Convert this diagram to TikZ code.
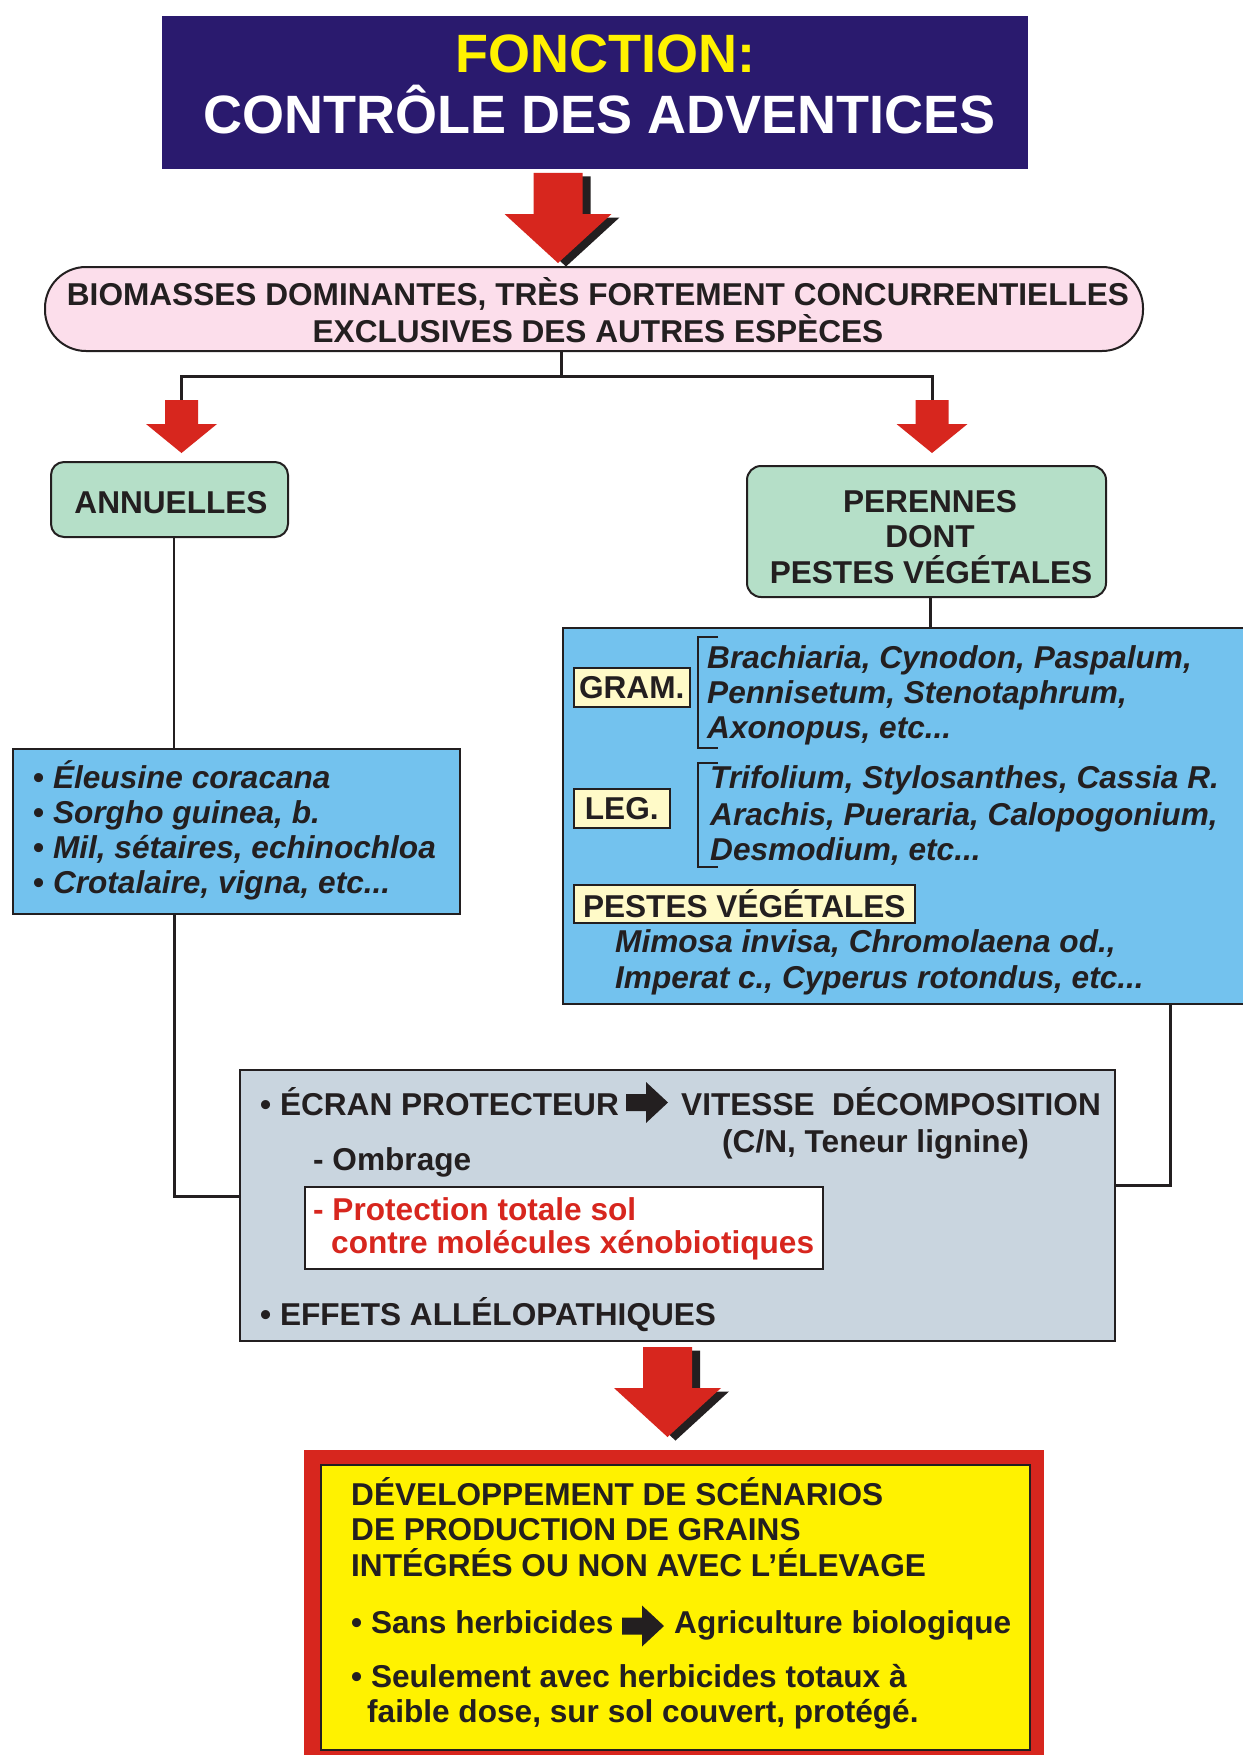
\documentclass[tikz,border=0pt]{standalone}
\usepackage{fontspec}
\setmainfont{Liberation Sans}
\usetikzlibrary{calc}
\definecolor{ink}{HTML}{231F20}
\definecolor{navy}{HTML}{2A1A6E}
\definecolor{tyellow}{HTML}{FFF200}
\definecolor{pinkbg}{HTML}{FCDEEB}
\definecolor{mint}{HTML}{B5DFC8}
\definecolor{sky}{HTML}{73C2EE}
\definecolor{greyb}{HTML}{C9D5DF}
\definecolor{lab}{HTML}{FFFAC8}
\definecolor{redc}{HTML}{D7261E}
\tikzset{
  t/.style={font=\fontsize{31.6}{36}\selectfont\bfseries, text=ink, inner sep=0pt, anchor=base west},
  ti/.style={font=\fontsize{31.6}{36}\selectfont\bfseries\itshape, text=ink, inner sep=0pt, anchor=base west},
  box/.style={draw=ink, line width=2pt, anchor=north west, inner sep=0pt},
  lbl/.style={box, fill=lab, line width=1.5pt, font=\fontsize{31.6}{36}\selectfont\bfseries, text=ink},
  conn/.style={draw=ink, line width=3pt},
  thinconn/.style={draw=ink, line width=1.5pt},
  bigarrow/.pic={
    \fill[ink, shift={(8,3.5)}] (-24.5,0) -- (24.5,0) -- (24.5,41) -- (53.5,41) -- (0,90) -- (-53.5,41) -- (-24.5,41) -- cycle;
    \fill[redc] (-24.5,0) -- (24.5,0) -- (24.5,41) -- (53.5,41) -- (0,90) -- (-53.5,41) -- (-24.5,41) -- cycle;
  },
  smallarrow/.pic={
    \fill[redc] (-16.5,0) -- (16.5,0) -- (16.5,24) -- (35.5,24) -- (0,53) -- (-35.5,24) -- (-16.5,24) -- cycle;
  },
  blackarrow/.pic={
    \fill[ink] (0,-8.5) -- (20,-8.5) -- (20,-20.5) -- (42,0) -- (20,20.5) -- (20,8.5) -- (0,8.5) -- cycle;
  }
}
\begin{document}
\begin{tikzpicture}[x=1pt,y=-1pt]
\useasboundingbox[fill=white] (0,0) rectangle (1242,1755);

% title
\node[box, fill=navy, draw=none, minimum width=866pt, minimum height=153pt] (title) at (161,15) {};
\node[font=\fontsize{54}{60}\selectfont\bfseries, text=tyellow, inner sep=0pt, anchor=base] (t1) at (605,73) {FONCTION:};
\node[font=\fontsize{54}{60}\selectfont\bfseries, text=white, inner sep=0pt, anchor=base] (t2) at (600,134) {CONTRÔLE DES ADVENTICES};

\coordinate (ba1) at (558,173);
\pic at (ba1) {bigarrow};

% biomass box
\node[box, fill=pinkbg, rounded corners=41pt, minimum width=1098pt, minimum height=84pt] (bio) at (44,266) {};
\node[t, anchor=base] (bio1) at (598,305) {BIOMASSES DOMINANTES, TRÈS FORTEMENT CONCURRENTIELLES};
\node[t, anchor=base] (bio2) at (598,342) {EXCLUSIVES DES AUTRES ESPÈCES};

% split
\coordinate (jn) at (561,376);
\coordinate (sa1) at (181.5,400);
\coordinate (sa2) at (932,400);
\draw[conn] (jn |- bio.south) -- (jn);
\draw[conn] (sa1) |- (jn) -| (sa2);
\pic at (sa1) {smallarrow};
\pic at (sa2) {smallarrow};

% annuelles
\node[box, fill=mint, rounded corners=13pt, minimum width=237pt, minimum height=75pt] (ann) at (50,461) {};
\node[t, anchor=base] (annt) at (171,513) {ANNUELLES};
\node[box, fill=sky, minimum width=447pt, minimum height=165pt] (lb) at (12,748) {};
\coordinate (lx) at (174,0);
\draw[thinconn] (ann.south -| lx) -- (lb.north -| lx);
\node[t] (l1) at (33,788) {•\ \textit{Éleusine coracana}};
\node[t] (l2) at (33,823) {•\ \textit{Sorgho guinea, b.}};
\node[t] (l3) at (33,858) {•\ \textit{Mil, sétaires, echinochloa}};
\node[t] (l4) at (33,893) {•\ \textit{Crotalaire, vigna, etc...}};

% perennes
\node[box, fill=mint, rounded corners=14pt, minimum width=359pt, minimum height=131pt] (per) at (746,465) {};
\node[t, anchor=base] (p1) at (930,512) {PERENNES};
\node[t, anchor=base] (p2) at (930,547) {DONT};
\node[t, anchor=base] (p3) at (931,583) {PESTES VÉGÉTALES};
\node[box, fill=sky, minimum width=720pt, minimum height=376pt] (rb) at (562,627) {};
\coordinate (px) at (930,0);
\draw[conn] (per.south -| px) -- (rb.north -| px);

\node[lbl, minimum width=116pt, minimum height=39pt] (gram) at (573,667) {GRAM.};
\node[lbl, minimum width=96pt, minimum height=39pt] (leg) at (573,788) {LEG.};
\node[lbl, minimum width=341pt, minimum height=38pt] (pest) at (573,884) {PESTES VÉGÉTALES};
\draw[ink, line width=2.5pt] (718,637) -- (698,637) -- (698,748) -- (718,748);
\draw[ink, line width=2.5pt] (718,763) -- (698,763) -- (698,867) -- (718,867);
\node[ti] (g1) at (707,668) {Brachiaria, Cynodon, Paspalum,};
\node[ti] (g2) at (707,703) {Pennisetum, Stenotaphrum,};
\node[ti] (g3) at (707,738) {Axonopus, etc...};
\node[ti] (e1) at (710,788) {Trifolium, Stylosanthes, Cassia R.};
\node[ti] (e2) at (710,825) {Arachis, Pueraria, Calopogonium,};
\node[ti] (e3) at (710,860) {Desmodium, etc...};
\node[ti] (m1) at (615,952) {Mimosa invisa, Chromolaena od.,};
\node[ti] (m2) at (615,988) {Imperat c., Cyperus rotondus, etc...};

% grey box
\node[box, fill=greyb, minimum width=875pt, minimum height=271pt] (gb) at (239,1069) {};
\coordinate (gl) at (239,1196);
\coordinate (rx) at (1170,0);
\coordinate (gr) at (1114,1185);
\draw[conn] (lb.south -| lx) |- (gl);
\draw[conn] (rb.south -| rx) |- (gr);
\node[t] (c1) at (260,1115) {•\ ÉCRAN PROTECTEUR};
\coordinate (ka1) at (626,1102.5);
\pic at (ka1) {blackarrow};
\node[t] (c2) at (681,1115) {VITESSE\ \ DÉCOMPOSITION};
\node[t] (c3) at (722,1152) {(C/N, Teneur lignine)};
\node[t] (c4) at (313,1170) {- Ombrage};
\node[box, fill=white, line width=1.5pt, minimum width=518pt, minimum height=82pt] (wb) at (304,1186) {};
\node[t, text=redc] (c5) at (313,1220) {- Protection totale sol};
\node[t, text=redc] (c6) at (331,1253) {contre molécules xénobiotiques};
\node[t] (c7) at (260,1325) {•\ EFFETS ALLÉLOPATHIQUES};

\coordinate (ba2) at (667.5,1347);
\pic at (ba2) {bigarrow};

% bottom box
\node[fill=redc, anchor=north west, inner sep=0pt, minimum width=740pt, minimum height=320pt] (rf) at (304,1450) {};
\node[box, fill=tyellow, line width=1.5pt, minimum width=709pt, minimum height=285pt] (yb) at (320,1464) {};
\node[t] (d1) at (351,1505) {DÉVELOPPEMENT DE SCÉNARIOS};
\node[t] (d2) at (351,1540) {DE PRODUCTION DE GRAINS};
\node[t] (d3) at (351,1576) {INTÉGRÉS OU NON AVEC L’ÉLEVAGE};
\node[t] (d4) at (351,1633) {•\ Sans herbicides};
\coordinate (ka2) at (622,1626);
\pic at (ka2) {blackarrow};
\node[t] (d5) at (674,1633) {Agriculture biologique};
\node[t] (d6) at (351,1687) {•\ Seulement avec herbicides totaux à};
\node[t] (d7) at (367,1722) {faible dose, sur sol couvert, protégé.};
\end{tikzpicture}
\end{document}
